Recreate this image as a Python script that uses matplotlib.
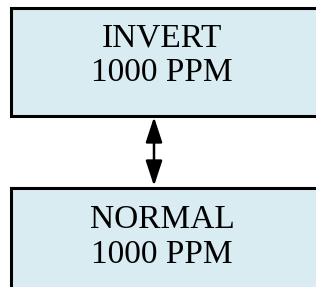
import matplotlib
matplotlib.use("Agg")
import matplotlib.pyplot as plt
from matplotlib.patches import Rectangle, FancyArrowPatch

# box contents, top to bottom
modes = ["INVERT", "NORMAL"]
ppm = [1000, 1000]

fill = "#d9ecf2"
plt.rcParams["font.family"] = ["Liberation Serif", "DejaVu Serif"]

fig = plt.figure(figsize=(3.16, 2.87), dpi=100)
ax = fig.add_axes([0, 0, 1, 1])
ax.set_xlim(0, 316)
ax.set_ylim(287, 0)
ax.axis("off")

# box geometry (pixels): left, top, height
boxes = [(10.5, 7.5, 108), (10.5, 187.5, 120)]
text_y = [(38, 73), (220, 255)]

for (x0, y0, h), mode, val, (ya, yb) in zip(boxes, modes, ppm, text_y):
    ax.add_patch(Rectangle((x0, y0), 330, h, facecolor=fill,
                           edgecolor="black", lw=2.2))
    ax.text(162, ya, mode, ha="center", va="center", fontsize=24)
    ax.text(162, yb, f"{val} PPM", ha="center", va="center", fontsize=24)

arrow = FancyArrowPatch((154, 117), (154, 186),
                        arrowstyle="<|-|>,head_length=1.1,head_width=0.36",
                        mutation_scale=14, lw=1.8, color="black",
                        shrinkA=0, shrinkB=0)
ax.add_patch(arrow)

fig.savefig("out.png", dpi=100)
